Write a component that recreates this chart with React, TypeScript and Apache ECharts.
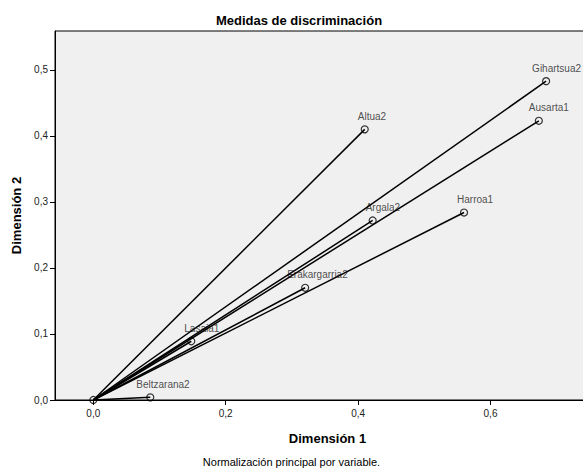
import React, { useEffect, useRef } from "react";
import * as echarts from "echarts";

const labels = ["Gihartsua2", "Ausarta1", "Altua2", "Argala2", "Harroa1", "Erakargarria2", "Lasaia1", "Beltzarana2"];
const dim1 = [0.684, 0.673, 0.41, 0.422, 0.56, 0.32, 0.148, 0.086];
const dim2 = [0.483, 0.423, 0.41, 0.272, 0.284, 0.17, 0.089, 0.004];
const xTicks = [0, 0.2, 0.4, 0.6];
const yTicks = [0, 0.1, 0.2, 0.3, 0.4, 0.5];

const FONT = "Liberation Sans, Arial, sans-serif";
const labelDx: Record<string, number> = { Gihartsua2: -14, Ausarta1: -10, Erakargarria2: -18, Beltzarana2: -14 };

export default function App() {
  const ref = useRef<HTMLDivElement>(null);
  useEffect(() => {
    if (!ref.current) return;
    const chart = echarts.init(ref.current, undefined, { renderer: "svg" });
    const fmt = (v: number) => v.toFixed(1).replace(".", ",");
    const lineSeries = labels.map((name, i) => ({
      type: "line",
      name,
      data: [[0, 0], [dim1[i], dim2[i]]],
      symbol: "none",
      z: 3,
      lineStyle: { color: "#000", width: 1.5 },
    }));
    const pts = labels.map((name, i) => ({
      value: [dim1[i], dim2[i]],
      name,
      label: { offset: [labelDx[name] ?? -7, 0] },
    }));
    chart.setOption({
      animation: false,
      title: {
        text: "Medidas de discriminación",
        left: 294,
        textAlign: "center",
        top: 9,
        textStyle: { fontFamily: FONT, fontSize: 13, fontWeight: "bold", color: "#000" },
      },
      graphic: [
        {
          type: "text",
          left: "center",
          top: 456,
          style: { text: "Normalización principal por variable.", font: `11px ${FONT}`, fill: "#000" },
        },
      ],
      grid: {
        left: 55,
        top: 31,
        width: 545,
        height: 369,
        outerBoundsMode: "none",
        containLabel: false,
        show: true,
        backgroundColor: "#f0f0f0",
        borderColor: "#000",
        borderWidth: 1,
      },
      xAxis: {
        type: "value",
        min: -0.0579,
        max: 0.7654,
        name: "Dimensión 1",
        nameLocation: "middle",
        nameGap: 32,
        nameTextStyle: { fontFamily: FONT, fontSize: 13, fontWeight: "bold", color: "#000" },
        axisLine: { show: true, onZero: false, lineStyle: { color: "#000", width: 1 } },
        axisTick: { show: true, customValues: xTicks, length: 5, lineStyle: { color: "#000" } },
        axisLabel: { customValues: xTicks, formatter: fmt, fontFamily: FONT, fontSize: 10, color: "#222", margin: 8 },
        splitLine: { show: false },
      },
      yAxis: {
        type: "value",
        min: 0,
        max: 0.559,
        name: "Dimensión 2",
        nameLocation: "middle",
        nameGap: 32,
        nameTextStyle: { fontFamily: FONT, fontSize: 13, fontWeight: "bold", color: "#000" },
        axisLine: { show: true, onZero: false, lineStyle: { color: "#000", width: 1 } },
        axisTick: { show: true, customValues: yTicks, length: 5, lineStyle: { color: "#000" } },
        axisLabel: { customValues: yTicks, formatter: fmt, fontFamily: FONT, fontSize: 10, color: "#222", margin: 7 },
        splitLine: { show: false },
      },
      series: [
        {
          type: "scatter",
          z: 2,
          data: pts,
          symbol: "circle",
          symbolSize: 7,
          itemStyle: { color: "rgba(0,0,0,0)", borderColor: "#000", borderWidth: 1.2 },
          label: {
            show: true,
            position: "top",
            align: "left",
            distance: 4,
            formatter: (p: any) => p.name,
            fontFamily: FONT,
            fontSize: 10,
            color: "#222",
          },
        },
        {
          type: "scatter",
          z: 4,
          data: [[0, 0]],
          symbol: "circle",
          symbolSize: 7,
          itemStyle: { color: "rgba(0,0,0,0)", borderColor: "#000", borderWidth: 1.2 },
        },
        ...lineSeries,
      ],
    });
    return () => chart.dispose();
  }, []);
  return <div ref={ref} style={{ width: 583, height: 470, position: "absolute", left: 0, top: 0 }} />;
}
